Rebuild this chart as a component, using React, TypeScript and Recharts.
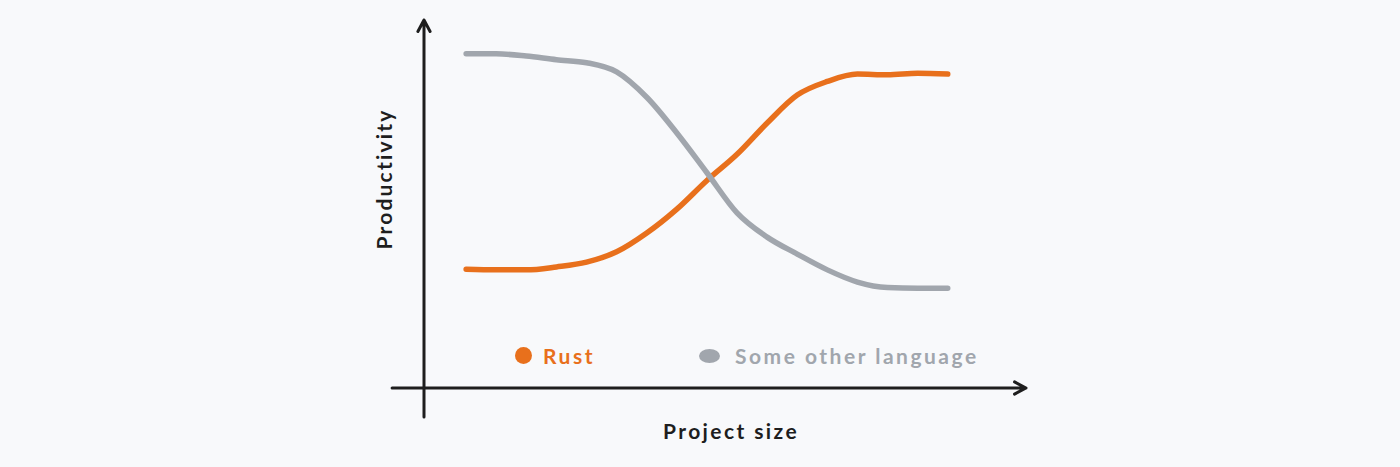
import { LineChart, Line, XAxis, YAxis, ReferenceLine, Legend } from "recharts";

// x: project size (0 = y axis, 100 = arrow tip), y: productivity (0 = x axis, 100 = arrow tip)
const projectSize = [7, 12, 17, 22, 27, 32, 37, 42, 47, 52, 57, 62, 67, 72, 77, 82, 87];
const rust = [32.3, 32.1, 32.1, 32.9, 34.2, 37.0, 42.1, 48.6, 56.4, 63.5, 72.0, 79.6, 83.3, 85.3, 85.1, 85.5, 85.3];
const otherLanguage = [90.8, 90.8, 90.2, 89.2, 88.4, 85.9, 79.0, 69.3, 58.5, 47.6, 41.0, 36.4, 32.1, 28.8, 27.3, 27.1, 27.1];

const data = projectSize.map((x, i) => ({ x, rust: rust[i], other: otherLanguage[i] }));

const INK = "#1e1e1e";
const ORANGE = "#e8701c";
const GRAY = "#a1a6ad";
const FONT = "Lato, 'Noto Sans', sans-serif";

const ArrowAxis = (props: any) => {
  const { x1, y1, x2, y2 } = props;
  const dx = x2 - x1;
  const dy = y2 - y1;
  const len = Math.hypot(dx, dy) || 1;
  const bx = -dx / len;
  const by = -dy / len;
  const head = 13;
  const a = (28 * Math.PI) / 180;
  const arm = (s: number) => [
    x2 + head * (bx * Math.cos(s * a) - by * Math.sin(s * a)),
    y2 + head * (bx * Math.sin(s * a) + by * Math.cos(s * a)),
  ];
  const [lx, ly] = arm(1);
  const [rx, ry] = arm(-1);
  return (
    <path
      d={`M${x1},${y1} L${x2},${y2} M${lx},${ly} L${x2},${y2} L${rx},${ry}`}
      stroke={INK}
      strokeWidth={3}
      fill="none"
      strokeLinecap="round"
      strokeLinejoin="round"
    />
  );
};

const XLabel = ({ viewBox }: any) => (
  <text
    x={viewBox.x + viewBox.width / 2 + 6}
    y={viewBox.y + 51}
    textAnchor="middle"
    fill={INK}
    fontFamily={FONT}
    fontWeight={700}
    fontSize={21}
    letterSpacing={2.4}
  >
    Project size
  </text>
);

const YLabel = ({ viewBox }: any) => {
  const cx = viewBox.x + 28;
  const cy = viewBox.y + 159;
  return (
    <text
      x={cx}
      y={cy}
      transform={`rotate(-90, ${cx}, ${cy})`}
      textAnchor="middle"
      fill={INK}
      fontFamily={FONT}
      fontWeight={700}
      fontSize={21}
      letterSpacing={2.2}
    >
      Productivity
    </text>
  );
};

const LegendContent = ({ payload }: any) => (
  <div style={{ display: "flex", alignItems: "center", fontFamily: FONT }}>
    {(payload || []).map((p: any, i: number) => (
      <div key={p.value} style={{ display: "flex", alignItems: "center", minWidth: i === 0 ? 184 : 0 }}>
        <span
          style={{
            display: "inline-block",
            width: i === 0 ? 17 : 21,
            height: i === 0 ? 17 : 14,
            borderRadius: "50%",
            background: p.color,
            marginRight: i === 0 ? 11 : 15,
          }}
        />
        <span style={{ color: p.color, fontSize: 21, fontWeight: 700, letterSpacing: 2.5 }}>{p.value}</span>
      </div>
    ))}
  </div>
);

export default function App() {
  return (
    <div style={{ position: "absolute", left: 0, top: 0, width: 1400, height: 467, background: "#f8f9fb" }}>
      <LineChart width={1400} height={467} data={data} margin={{ top: 20, right: 374, bottom: 19, left: 364 }}>
        <XAxis
          type="number"
          dataKey="x"
          domain={[0, 100]}
          allowDataOverflow
          height={60}
          tick={false}
          tickLine={false}
          axisLine={false}
          label={{ content: XLabel }}
        />
        <YAxis
          type="number"
          domain={[0, 100]}
          allowDataOverflow
          width={60}
          tick={false}
          tickLine={false}
          axisLine={false}
          label={{ content: YLabel }}
        />
        <ReferenceLine segment={[{ x: -5.3, y: 0 }, { x: 100, y: 0 }]} ifOverflow="visible" shape={ArrowAxis} />
        <ReferenceLine segment={[{ x: 0, y: -7.9 }, { x: 0, y: 100 }]} ifOverflow="visible" shape={ArrowAxis} />
        <Line
          type="monotone"
          dataKey="rust"
          name="Rust"
          stroke={ORANGE}
          strokeWidth={5.5}
          strokeLinecap="round"
          dot={false}
          isAnimationActive={false}
        />
        <Line
          type="monotone"
          dataKey="other"
          name="Some other language"
          stroke={GRAY}
          strokeWidth={5.5}
          strokeLinecap="round"
          dot={false}
          isAnimationActive={false}
        />
        <Legend
          layout="horizontal"
          verticalAlign="middle"
          align="center"
          content={LegendContent}
          wrapperStyle={{ left: 515, top: 343, width: 540 }}
        />
      </LineChart>
    </div>
  );
}
